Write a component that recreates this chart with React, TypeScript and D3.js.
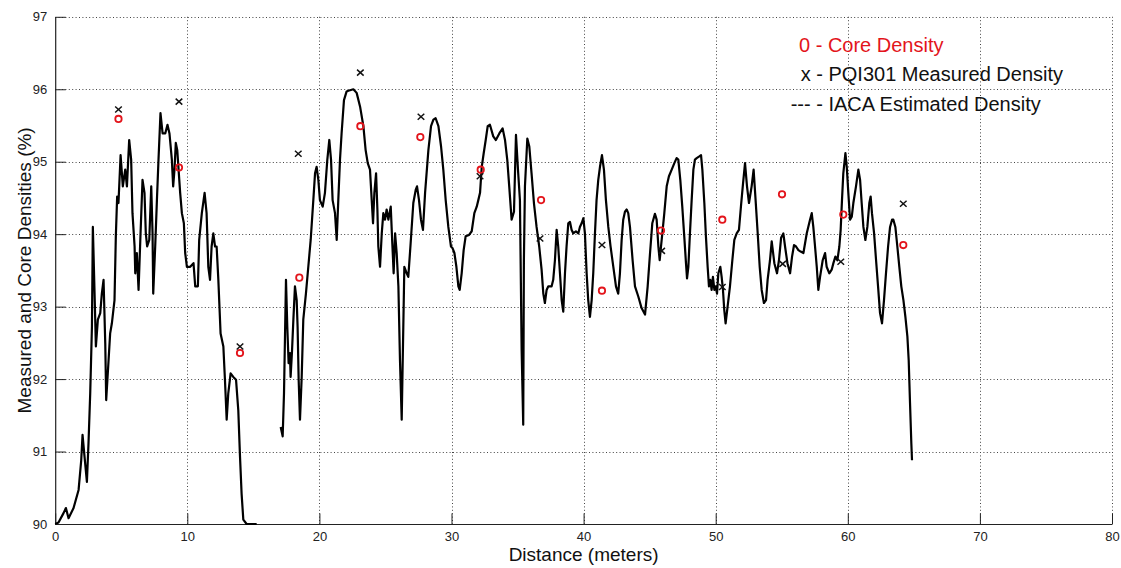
import React, { useEffect, useRef } from "react";
import * as d3 from "d3";

const xTicks = [0, 10, 20, 30, 40, 50, 60, 70, 80];
const yTicks = [90, 91, 92, 93, 94, 95, 96, 97];

// IACA estimated density trace, [distance m, density %], two runs
const iacaRun1: [number, number][] = [
  [0, 90.0], [0.25, 90.02], [0.63, 90.15], [0.81, 90.22], [1.01, 90.08], [1.39, 90.22],
  [1.77, 90.47], [1.97, 90.88], [2.07, 91.23], [2.22, 90.93], [2.4, 90.58], [2.52, 91.11],
  [2.65, 91.8], [2.78, 92.72], [2.85, 94.1], [2.98, 93.18], [3.08, 92.45], [3.23, 92.82],
  [3.41, 92.91], [3.53, 93.18], [3.66, 93.37], [3.79, 92.49], [3.86, 91.71], [4.04, 92.26],
  [4.16, 92.63], [4.29, 92.77], [4.49, 93.09], [4.59, 93.97], [4.69, 94.52], [4.79, 94.43],
  [4.95, 95.09], [5.12, 94.66], [5.3, 94.89], [5.43, 94.66], [5.6, 95.3], [5.75, 95.03],
  [5.85, 94.29], [6.01, 93.83], [6.06, 93.46], [6.18, 93.74], [6.31, 93.23], [6.46, 94.01],
  [6.61, 94.75], [6.76, 94.57], [6.86, 94.01], [6.96, 93.83], [7.12, 93.92], [7.27, 94.66],
  [7.37, 94.01], [7.42, 93.18], [7.57, 93.83], [7.7, 94.47], [7.82, 95.03], [7.97, 95.67],
  [8.13, 95.39], [8.33, 95.39], [8.5, 95.51], [8.65, 95.39], [8.83, 95.03], [8.93, 94.66],
  [9.03, 94.89], [9.13, 95.26], [9.24, 95.16], [9.34, 94.89], [9.46, 94.57], [9.59, 94.29],
  [9.74, 94.15], [9.84, 93.74], [9.97, 93.55], [10.22, 93.55], [10.47, 93.6], [10.6, 93.28],
  [10.8, 93.28], [10.9, 93.92], [11.1, 94.29], [11.31, 94.57], [11.46, 94.29], [11.59, 93.55],
  [11.72, 93.37], [11.84, 93.83], [11.97, 94.01], [12.1, 93.83], [12.22, 93.83], [12.35, 93.37],
  [12.52, 92.63], [12.73, 92.45], [12.85, 91.99], [12.98, 91.44], [13.1, 91.8], [13.28, 92.08],
  [13.48, 92.03], [13.69, 91.99], [13.86, 91.57], [13.99, 90.93], [14.11, 90.42], [14.24, 90.06],
  [14.49, 90.0], [15.25, 90.0],
];

const iacaRun2: [number, number][] = [
  [17.07, 91.34], [17.22, 91.21], [17.32, 91.8], [17.47, 93.37], [17.57, 92.72], [17.67, 92.22],
  [17.77, 92.36], [17.82, 92.03], [17.92, 92.36], [18.03, 92.82], [18.15, 93.28], [18.28, 93.09],
  [18.35, 92.72], [18.43, 91.99], [18.53, 91.44], [18.66, 92.03], [18.78, 92.82], [18.98, 93.18],
  [19.16, 93.55], [19.34, 93.92], [19.54, 94.47], [19.67, 94.84], [19.79, 94.93], [19.92, 94.75],
  [20.04, 94.47], [20.25, 94.38], [20.42, 94.57], [20.6, 95.03], [20.75, 95.3], [20.88, 95.03],
  [21.0, 94.47], [21.18, 94.29], [21.31, 93.92], [21.43, 94.47], [21.56, 95.03], [21.68, 95.39],
  [21.86, 95.85], [22.06, 95.97], [22.19, 95.98], [22.57, 96.0], [22.82, 95.95], [23.08, 95.76],
  [23.33, 95.49], [23.5, 95.16], [23.66, 94.98], [23.83, 94.89], [23.96, 94.47], [24.06, 94.15],
  [24.16, 94.57], [24.29, 94.84], [24.39, 94.34], [24.46, 93.83], [24.59, 93.55], [24.72, 94.01],
  [24.84, 94.29], [24.97, 94.2], [25.09, 94.34], [25.22, 94.2], [25.4, 94.38], [25.52, 93.87],
  [25.62, 93.46], [25.73, 94.01], [25.85, 93.74], [25.98, 93.28], [26.1, 92.26], [26.23, 91.44],
  [26.43, 93.55], [26.61, 93.46], [26.73, 93.41], [26.89, 93.83], [27.11, 94.43], [27.29, 94.61],
  [27.39, 94.66], [27.54, 94.47], [27.69, 94.2], [27.84, 94.06], [28.0, 94.57], [28.25, 95.16],
  [28.45, 95.49], [28.63, 95.58], [28.8, 95.6], [29.01, 95.49], [29.21, 95.21], [29.38, 94.89],
  [29.56, 94.47], [29.76, 94.1], [29.96, 93.83], [30.07, 93.81], [30.22, 93.74], [30.37, 93.55],
  [30.52, 93.28], [30.62, 93.23], [30.77, 93.46], [30.92, 93.78], [31.07, 93.97], [31.33, 93.99],
  [31.53, 94.04], [31.73, 94.29], [31.91, 94.38], [32.03, 94.47], [32.16, 94.57], [32.29, 94.93],
  [32.44, 95.12], [32.59, 95.3], [32.74, 95.49], [32.91, 95.51], [33.16, 95.35], [33.36, 95.3],
  [33.62, 95.39], [33.87, 95.46], [34.05, 95.3], [34.22, 95.03], [34.37, 94.66], [34.55, 94.2],
  [34.73, 94.31], [34.88, 95.37], [35.05, 94.84], [35.18, 94.47], [35.31, 92.4], [35.43, 91.37],
  [35.48, 93.64], [35.56, 94.66], [35.74, 95.32], [35.89, 95.21], [36.06, 94.84], [36.24, 94.43],
  [36.44, 94.1], [36.64, 93.83], [36.82, 93.51], [36.95, 93.18], [37.07, 93.05], [37.2, 93.23],
  [37.33, 93.28], [37.58, 93.28], [37.7, 93.37], [37.83, 93.64], [37.96, 94.06], [38.08, 93.83],
  [38.21, 93.46], [38.34, 93.09], [38.46, 92.93], [38.59, 93.46], [38.71, 93.83], [38.84, 94.15],
  [38.97, 94.17], [39.09, 94.06], [39.22, 94.01], [39.42, 94.04], [39.6, 94.01], [39.72, 94.1],
  [39.85, 94.15], [39.98, 94.22], [40.1, 94.01], [40.23, 93.46], [40.35, 93.09], [40.48, 92.86],
  [40.61, 93.09], [40.73, 93.46], [40.86, 94.01], [40.98, 94.47], [41.11, 94.75], [41.24, 94.93],
  [41.39, 95.09], [41.54, 94.89], [41.69, 94.47], [41.87, 94.1], [42.04, 93.83], [42.25, 93.55],
  [42.45, 93.28], [42.62, 93.18], [42.75, 93.46], [42.88, 93.92], [43.0, 94.2], [43.13, 94.31],
  [43.26, 94.34], [43.38, 94.29], [43.51, 94.1], [43.71, 93.64], [43.89, 93.28], [44.14, 93.14],
  [44.39, 92.98], [44.65, 92.89], [44.85, 93.28], [45.03, 93.74], [45.2, 94.15], [45.4, 94.28],
  [45.53, 94.2], [45.66, 93.83], [45.76, 93.64], [45.86, 93.83], [45.96, 94.01], [46.11, 94.29],
  [46.29, 94.66], [46.46, 94.8], [46.67, 94.89], [46.87, 94.98], [47.04, 95.05], [47.17, 95.03],
  [47.32, 94.75], [47.47, 94.38], [47.62, 93.97], [47.75, 93.6], [47.83, 93.39], [47.93, 93.55],
  [48.05, 94.01], [48.18, 94.47], [48.31, 94.89], [48.43, 95.03], [48.56, 95.05], [48.73, 95.07],
  [48.89, 95.09], [48.99, 94.89], [49.14, 94.43], [49.26, 93.97], [49.39, 93.55], [49.49, 93.28],
  [49.59, 93.37], [49.69, 93.23], [49.79, 93.41], [49.9, 93.23], [50.0, 93.28], [50.1, 93.18],
  [50.2, 93.46], [50.35, 93.55], [50.45, 93.41], [50.55, 93.23], [50.65, 92.95], [50.75, 92.77],
  [50.9, 93.0], [51.08, 93.28], [51.26, 93.64], [51.41, 93.92], [51.59, 94.01], [51.76, 94.06],
  [51.91, 94.38], [52.07, 94.7], [52.22, 94.98], [52.37, 94.66], [52.52, 94.43], [52.72, 94.66],
  [52.87, 94.89], [53.02, 94.47], [53.18, 94.01], [53.33, 93.55], [53.48, 93.23], [53.65, 93.05],
  [53.81, 93.09], [53.93, 93.37], [54.11, 93.64], [54.24, 93.9], [54.44, 93.6], [54.64, 93.46],
  [54.79, 93.64], [54.95, 93.95], [55.12, 94.01], [55.25, 93.83], [55.43, 93.6], [55.63, 93.46],
  [55.78, 93.69], [55.93, 93.85], [56.08, 93.83], [56.26, 93.78], [56.43, 93.76], [56.64, 93.74],
  [56.89, 94.01], [57.14, 94.2], [57.27, 94.29], [57.39, 94.1], [57.52, 93.83], [57.65, 93.55],
  [57.77, 93.23], [57.9, 93.41], [58.1, 93.64], [58.28, 93.74], [58.4, 93.55], [58.6, 93.46],
  [58.78, 93.51], [58.91, 93.6], [59.06, 93.69], [59.21, 93.64], [59.36, 93.83], [59.46, 94.06],
  [59.56, 94.47], [59.66, 94.84], [59.82, 95.12], [59.92, 94.93], [60.04, 94.57], [60.17, 94.2],
  [60.3, 94.24], [60.42, 94.43], [60.62, 94.66], [60.8, 94.89], [60.93, 94.75], [61.05, 94.43],
  [61.18, 94.1], [61.33, 93.92], [61.48, 94.1], [61.63, 94.43], [61.73, 94.52], [61.83, 94.29],
  [61.99, 94.01], [62.14, 93.64], [62.29, 93.28], [62.44, 92.91], [62.59, 92.77], [62.74, 93.09],
  [62.89, 93.46], [63.05, 93.83], [63.2, 94.1], [63.35, 94.2], [63.45, 94.2], [63.6, 94.1],
  [63.75, 93.83], [63.9, 93.55], [64.05, 93.28], [64.21, 93.09], [64.36, 92.86], [64.51, 92.59],
  [64.61, 92.26], [64.71, 91.67], [64.81, 91.11], [64.86, 90.88],
];

// core density samples (red circles)
const coreX = [4.79, 9.37, 13.99, 18.48, 23.1, 27.64, 32.21, 36.78, 41.39, 45.86, 50.5, 55.02, 59.66, 64.2];
const coreY = [95.59, 94.92, 92.36, 93.4, 95.49, 95.34, 94.89, 94.47, 93.22, 94.05, 94.2, 94.55, 94.27, 93.85];

// PQI301 measured density (x marks)
const pqiX = [4.79, 9.37, 13.99, 18.4, 23.1, 27.69, 32.16, 36.7, 41.39, 45.91, 50.5, 55.07, 59.47, 64.2];
const pqiY = [95.72, 95.83, 92.45, 95.11, 96.23, 95.62, 94.8, 93.94, 93.85, 93.77, 93.27, 93.59, 93.62, 94.42];

const legendLines = [
  { text: "0 - Core Density", color: "#e3141b" },
  { text: "x - PQI301 Measured Density", color: "#111" },
  { text: "--- - IACA Estimated Density", color: "#111" },
];

const FONT = "'Liberation Sans', Arial, Helvetica, sans-serif";

const DensityChart = () => {
  const svgRef = useRef(null);

  useEffect(() => {
    const width = 1121;
    const height = 568;
    const left = 55.2;
    const right = 1112;
    const top = 16.8;
    const bottom = 524;

    const svg = d3.select(svgRef.current).attr("width", width).attr("height", height);

    const x = d3.scaleLinear().domain([0, 80]).range([left, right]);
    const y = d3.scaleLinear().domain([90, 97]).range([bottom, top]);

    // dotted grid
    const grid = svg.append("g").attr("stroke", "#444").attr("stroke-width", 1).attr("stroke-dasharray", "1,2.4");
    grid
      .selectAll(".gx")
      .data(xTicks.filter((d) => d > 0))
      .enter()
      .append("line")
      .attr("x1", (d) => Math.round(x(d)) + 0.5)
      .attr("x2", (d) => Math.round(x(d)) + 0.5)
      .attr("y1", top)
      .attr("y2", bottom);
    grid
      .selectAll(".gy")
      .data(yTicks.filter((d) => d > 90))
      .enter()
      .append("line")
      .attr("x1", left)
      .attr("x2", right)
      .attr("y1", (d) => Math.round(y(d)) + 0.5)
      .attr("y2", (d) => Math.round(y(d)) + 0.5);

    // axes, MATLAB style inward ticks
    const fmt = d3.format("d");
    const xAxis = svg
      .append("g")
      .attr("transform", `translate(0,${bottom})`)
      .call(d3.axisBottom(x).tickValues(xTicks).tickFormat(fmt).tickSizeInner(-10.6).tickSizeOuter(0).tickPadding(8));
    const yAxis = svg
      .append("g")
      .attr("transform", `translate(${left},0)`)
      .call(d3.axisLeft(y).tickValues(yTicks).tickFormat(fmt).tickSizeInner(-10.6).tickSizeOuter(0).tickPadding(8));

    [xAxis, yAxis].forEach((g) => {
      g.select(".domain").attr("stroke", "#222").attr("stroke-width", 1.2);
      g.selectAll(".tick line").attr("stroke", "#222");
      g.selectAll(".tick text").attr("fill", "#222").style("font-family", FONT).style("font-size", "13px");
    });

    // IACA line
    const line = d3
      .line<[number, number]>()
      .x((d) => x(d[0]))
      .y((d) => y(d[1]));

    [iacaRun1, iacaRun2].forEach((run) => {
      svg
        .append("path")
        .datum(run)
        .attr("d", line)
        .attr("fill", "none")
        .attr("stroke", "#000")
        .attr("stroke-width", 2.2)
        .attr("stroke-linejoin", "round");
    });

    // core density circles
    svg
      .selectAll(".core")
      .data(coreX)
      .enter()
      .append("circle")
      .attr("cx", (d) => x(d))
      .attr("cy", (d, i) => y(coreY[i]))
      .attr("r", 3.2)
      .attr("fill", "none")
      .attr("stroke", "#e3141b")
      .attr("stroke-width", 1.8);

    // PQI x markers
    svg
      .selectAll(".pqi")
      .data(pqiX)
      .enter()
      .append("path")
      .attr("transform", (d, i) => `translate(${x(d)},${y(pqiY[i])})`)
      .attr("d", "M-3.3,-3 L3.3,3 M-3.3,3 L3.3,-3")
      .attr("stroke", "#111")
      .attr("stroke-width", 1.5);

    // legend text block
    const legendPos = [
      [799, 52],
      [800.7, 80.5],
      [790.7, 111],
    ];
    svg
      .selectAll(".legend")
      .data(legendLines)
      .enter()
      .append("text")
      .attr("x", (d, i) => legendPos[i][0])
      .attr("y", (d, i) => legendPos[i][1])
      .attr("fill", (d) => d.color)
      .style("font-family", FONT)
      .style("font-size", "20px")
      .text((d) => d.text);

    // axis titles
    svg
      .append("text")
      .attr("x", (left + right) / 2)
      .attr("y", 561)
      .attr("text-anchor", "middle")
      .attr("fill", "#111")
      .style("font-family", FONT)
      .style("font-size", "19px")
      .text("Distance (meters)");

    svg
      .append("text")
      .attr("transform", `translate(31,${(top + bottom) / 2}) rotate(-90)`)
      .attr("text-anchor", "middle")
      .attr("fill", "#111")
      .style("font-family", FONT)
      .style("font-size", "19px")
      .text("Measured and Core Densities (%)");

    return () => {
      d3.select(svgRef.current).selectAll("*").remove();
    };
  }, []);

  return <svg ref={svgRef} style={{ position: "absolute", left: 0, top: 0, background: "#fff" }}></svg>;
};

export default function App() {
  return <DensityChart />;
}
